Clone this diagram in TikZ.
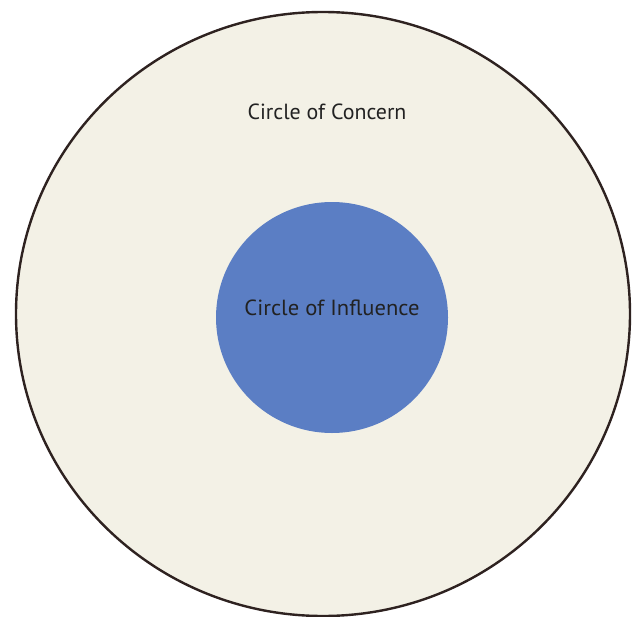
\documentclass[tikz,border=0pt]{standalone}
\usepackage{fontspec}
\setmainfont{PT Sans}
\definecolor{cream}{HTML}{F3F1E6}
\definecolor{infl}{HTML}{5B7EC4}
\definecolor{rim}{HTML}{2E2220}
\definecolor{ink}{HTML}{222222}
\tikzset{
  lbl/.style={font=\fontsize{22}{24}\selectfont, text=ink, inner sep=0pt},
}
\begin{document}
\begin{tikzpicture}[x=1bp,y=-1bp]
\useasboundingbox (0,0) rectangle (633,617);
\fill[white] (0,0) rectangle (633,617);
\draw[rim, fill=cream, line width=2.4bp] (323,314) ellipse [x radius=307, y radius=302];
\fill[infl] (332,317.5) ellipse [x radius=116, y radius=115.5];
\node[lbl] (concern) at (327,112) {Circle of Concern};
\node[lbl, xscale=1.03] (influence) at (332,308) {Circle of Influence};
\end{tikzpicture}
\end{document}
